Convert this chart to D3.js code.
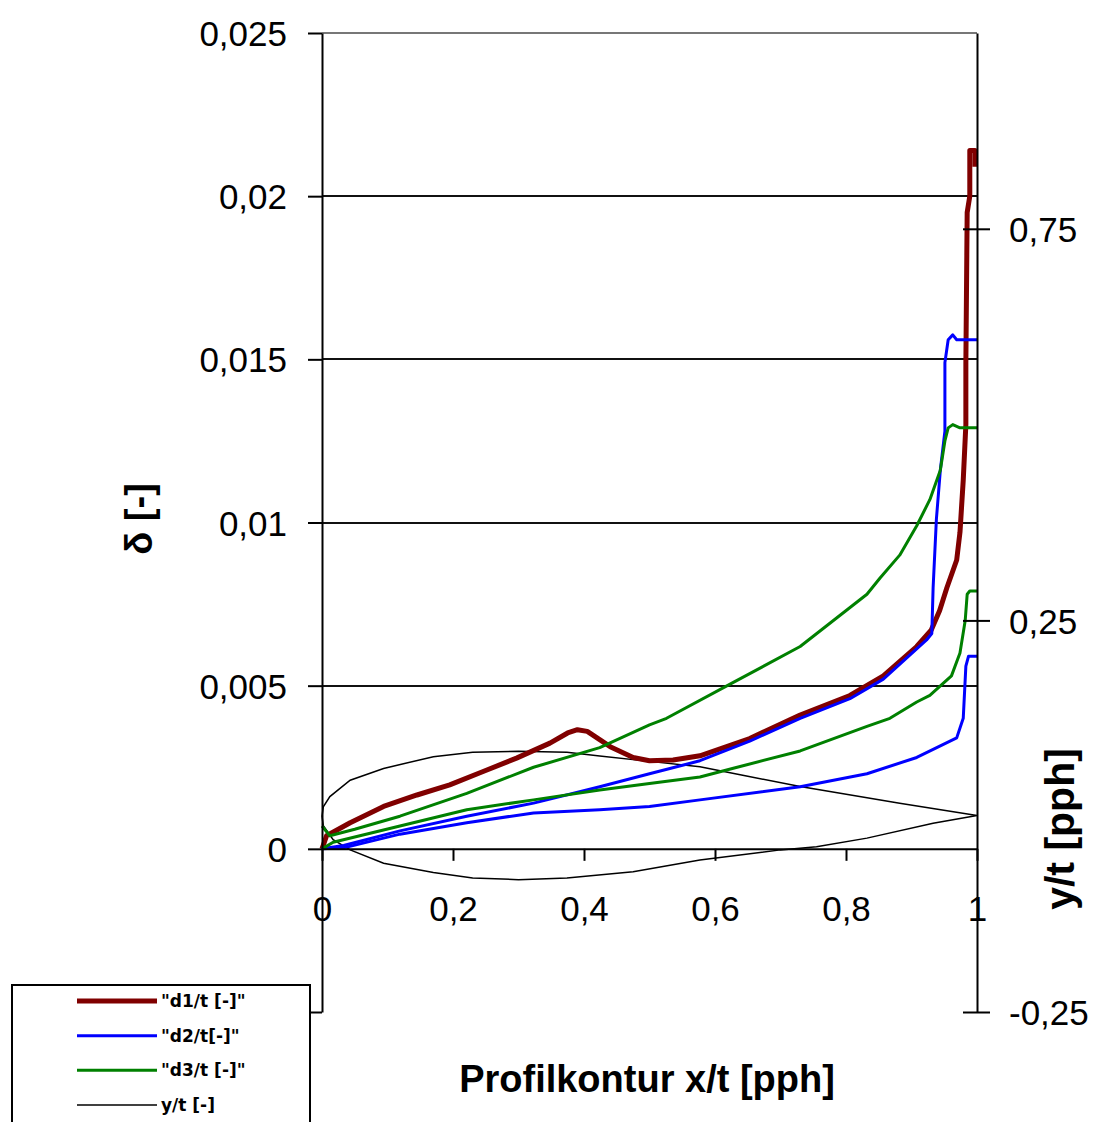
<!DOCTYPE html>
<html>
<head>
<meta charset="utf-8">
<script src="https://cdn.jsdelivr.net/npm/d3@7"></script>
<style>
  html, body { margin: 0; padding: 0; background: #fff; }
  svg { display: block; }
</style>
</head>
<body>
<svg id="chart" width="1101" height="1122"></svg>
<script>
// Boundary-layer thicknesses along the chord (x/t, value) and the profile contour.
const d1Upper = [
  [0, 0], [0.007, 0.0004], [0.043, 0.0008], [0.094, 0.0013], [0.145, 0.00165],
  [0.195, 0.00196], [0.246, 0.00237], [0.297, 0.00278], [0.348, 0.00324],
  [0.375, 0.00355], [0.39, 0.00365], [0.405, 0.0036], [0.44, 0.00313],
  [0.475, 0.0028], [0.5, 0.0027], [0.536, 0.00272], [0.577, 0.00285],
  [0.653, 0.00338], [0.73, 0.0041], [0.806, 0.0047], [0.857, 0.0053],
  [0.908, 0.0062], [0.93, 0.0067], [0.943, 0.0073], [0.954, 0.0080],
  [0.969, 0.00885], [0.974, 0.0097], [0.979, 0.0113], [0.983, 0.013],
  [0.983, 0.0149], [0.985, 0.0195], [0.989, 0.0200], [0.989, 0.0214],
  [0.997, 0.0214], [0.997, 0.0209]
];
const d2Upper = [
  [0, 0], [0.033, 0.0001], [0.119, 0.00055], [0.221, 0.0010], [0.323, 0.0014],
  [0.424, 0.0019], [0.5, 0.0023], [0.577, 0.0027], [0.653, 0.0033],
  [0.73, 0.0040], [0.806, 0.0046], [0.857, 0.0052], [0.923, 0.0064],
  [0.931, 0.0066], [0.933, 0.0080], [0.938, 0.0101], [0.944, 0.0116],
  [0.951, 0.0128], [0.951, 0.0149], [0.956, 0.0156], [0.963, 0.01575],
  [0.969, 0.0156], [1.0, 0.0156]
];
const d2Lower = [
  [0, 0], [0.033, 0.00003], [0.119, 0.00045], [0.221, 0.0008], [0.323, 0.0011],
  [0.424, 0.0012], [0.5, 0.0013], [0.577, 0.0015], [0.73, 0.0019],
  [0.832, 0.0023], [0.908, 0.0028], [0.969, 0.0034], [0.979, 0.0040],
  [0.983, 0.0056], [0.987, 0.0059], [1.0, 0.0059]
];
const d3Upper = [
  [0, 0.0007], [0.012, 0.0004], [0.05, 0.0006], [0.119, 0.0010], [0.221, 0.0017],
  [0.323, 0.0025], [0.424, 0.0031], [0.5, 0.0038], [0.526, 0.0040],
  [0.628, 0.0051], [0.73, 0.0062], [0.832, 0.0078], [0.852, 0.0083],
  [0.882, 0.0090], [0.908, 0.0099], [0.928, 0.0107], [0.944, 0.0116],
  [0.951, 0.0125], [0.956, 0.0129], [0.963, 0.0130], [0.974, 0.0129],
  [1.0, 0.0129]
];
const d3Lower = [
  [0, 0], [0.017, 0.0002], [0.119, 0.0007], [0.221, 0.0012], [0.323, 0.0015],
  [0.424, 0.0018], [0.5, 0.0020], [0.577, 0.0022], [0.628, 0.00247],
  [0.73, 0.0030], [0.832, 0.00375], [0.867, 0.0040], [0.908, 0.0045],
  [0.928, 0.0047], [0.961, 0.0053], [0.974, 0.0060], [0.982, 0.0070],
  [0.985, 0.0078], [0.989, 0.0079], [1.0, 0.0079]
];
// Profile contour y/t: trailing edge -> upper side -> nose -> lower side -> trailing edge
const profileUpper = [
  [1.0, 0.001], [0.882, 0.0165], [0.73, 0.038], [0.65, 0.051], [0.577, 0.063],
  [0.5, 0.070], [0.424, 0.077], [0.374, 0.0815], [0.30, 0.083], [0.23, 0.0815],
  [0.17, 0.076], [0.094, 0.061], [0.043, 0.046], [0.012, 0.025], [0.002, 0.012],
  [0, 0]
];
const profileLower = [
  [0, 0], [0.002, -0.012], [0.017, -0.030], [0.043, -0.043], [0.094, -0.060],
  [0.17, -0.072], [0.23, -0.079], [0.30, -0.081], [0.374, -0.079],
  [0.475, -0.071], [0.577, -0.056], [0.70, -0.043], [0.755, -0.039],
  [0.832, -0.028], [0.933, -0.009], [1.0, 0.001]
];

const xTicks = [0, 0.2, 0.4, 0.6, 0.8, 1];
const xTickLabels = ["0", "0,2", "0,4", "0,6", "0,8", "1"];
const leftTicks = [-0.005, 0, 0.005, 0.01, 0.015, 0.02, 0.025];
const leftTickLabels = ["", "0", "0,005", "0,01", "0,015", "0,02", "0,025"];
const rightTicks = [-0.25, 0.25, 0.75];
const rightTickLabels = ["-0,25", "0,25", "0,75"];

const legendNames = ['"d1/t [-]"', '"d2/t[-]"', '"d3/t [-]"', 'y/t [-]'];
const seriesColors = ["#800000", "#0000ff", "#008000", "#000000"];
const seriesWidths = [5, 3, 3, 1.5];

const svg = d3.select("#chart");
const plotLeft = 322, plotRight = 977, plotTop = 33, plotBottom = 1012;

const x = d3.scaleLinear().domain([0, 1]).range([plotLeft, plotRight]);
const yL = d3.scaleLinear().domain([-0.005, 0.025]).range([plotBottom, plotTop]);
const yR = d3.scaleLinear().domain([-0.25, 1.0]).range([plotBottom, plotTop]);

const font = '"Liberation Sans", Arial, sans-serif';

// Horizontal gridlines on the primary axis
svg.append("g")
  .selectAll("line")
  .data(leftTicks.filter(v => v > 0))
  .join("line")
  .attr("x1", plotLeft).attr("x2", plotRight)
  .attr("y1", d => Math.round(yL(d))).attr("y2", d => Math.round(yL(d)))
  .attr("stroke", d => d === 0.025 ? "#777" : "#111")
  .attr("stroke-width", 2);

// Profile contour on the secondary axis
const profileLine = d3.line().x(d => x(d[0])).y(d => yR(d[1]));
svg.append("path")
  .attr("d", profileLine(profileUpper.concat(profileLower.slice(1))))
  .attr("fill", "none")
  .attr("stroke", seriesColors[3])
  .attr("stroke-width", seriesWidths[3]);

// Boundary-layer thickness curves
const blLine = d3.line().x(d => x(d[0])).y(d => yL(d[1]));
const curves = [
  { data: d1Upper, s: 0 },
  { data: d2Upper, s: 1 }, { data: d2Lower, s: 1 },
  { data: d3Upper, s: 2 }, { data: d3Lower, s: 2 }
];
svg.append("g")
  .selectAll("path")
  .data(curves)
  .join("path")
  .attr("d", c => blLine(c.data))
  .attr("fill", "none")
  .attr("stroke", c => seriesColors[c.s])
  .attr("stroke-width", c => seriesWidths[c.s])
  .attr("stroke-linejoin", "round");

// Primary (left) axis
const gL = svg.append("g")
  .attr("transform", `translate(${plotLeft},0)`)
  .call(d3.axisLeft(yL).tickValues(leftTicks)
    .tickFormat((d, i) => leftTickLabels[i]).tickSize(14).tickSizeOuter(0).tickPadding(21));
gL.selectAll("text").attr("font-size", 35).attr("font-family", font).attr("fill", "#000").attr("dy", "0.36em");

// Category axis at zero
const gX = svg.append("g")
  .attr("transform", `translate(0,${yL(0)})`)
  .call(d3.axisBottom(x).tickValues(xTicks)
    .tickFormat((d, i) => xTickLabels[i]).tickSize(12).tickSizeOuter(0).tickPadding(35));
gX.selectAll("text").attr("font-size", 35).attr("font-family", font).attr("fill", "#000").attr("dy", "0.71em");

// Secondary (right) axis with crossing tick marks
const gR = svg.append("g")
  .attr("transform", `translate(${plotRight},0)`)
  .call(d3.axisRight(yR).tickValues(rightTicks)
    .tickFormat((d, i) => rightTickLabels[i]).tickSize(13).tickSizeOuter(0).tickPadding(19));
gR.selectAll(".tick line").attr("x1", -14);
gR.selectAll("text").attr("font-size", 35).attr("font-family", font).attr("fill", "#000").attr("dy", "0.36em");

[gL, gX, gR].forEach(g => {
  g.selectAll("path.domain").attr("stroke", "#000").attr("stroke-width", 2);
  g.selectAll(".tick line").attr("stroke", "#000").attr("stroke-width", 2);
});

// Axis titles
svg.append("text")
  .attr("transform", "translate(152,519) rotate(-90)")
  .attr("text-anchor", "middle")
  .attr("font-family", font).attr("font-weight", "bold").attr("font-size", 38)
  .text("δ [-]");
svg.append("text")
  .attr("transform", "translate(1074,829) rotate(-90)")
  .attr("text-anchor", "middle")
  .attr("font-family", font).attr("font-weight", "bold").attr("font-size", 41)
  .text("y/t [pph]");
svg.append("text")
  .attr("x", 647).attr("y", 1092)
  .attr("text-anchor", "middle")
  .attr("font-family", font).attr("font-weight", "bold").attr("font-size", 38)
  .text("Profilkontur x/t [pph]");

// Legend
const legend = svg.append("g");
legend.append("rect")
  .attr("x", 12).attr("y", 985).attr("width", 298).attr("height", 160)
  .attr("fill", "#fff").attr("stroke", "#000").attr("stroke-width", 2);
const ly = d3.scalePoint().domain(legendNames).range([1001, 1105]);
const items = legend.selectAll("g.item").data(legendNames).join("g").attr("class", "item");
items.append("line")
  .attr("x1", 77).attr("x2", 157)
  .attr("y1", d => ly(d)).attr("y2", d => ly(d))
  .attr("stroke", (d, i) => seriesColors[i])
  .attr("stroke-width", (d, i) => seriesWidths[i]);
items.append("text")
  .attr("x", 161).attr("y", d => ly(d)).attr("dy", "0.36em")
  .attr("font-family", '"DejaVu Sans", sans-serif').attr("font-weight", "bold").attr("font-size", 17)
  .text(d => d);
</script>
</body>
</html>
